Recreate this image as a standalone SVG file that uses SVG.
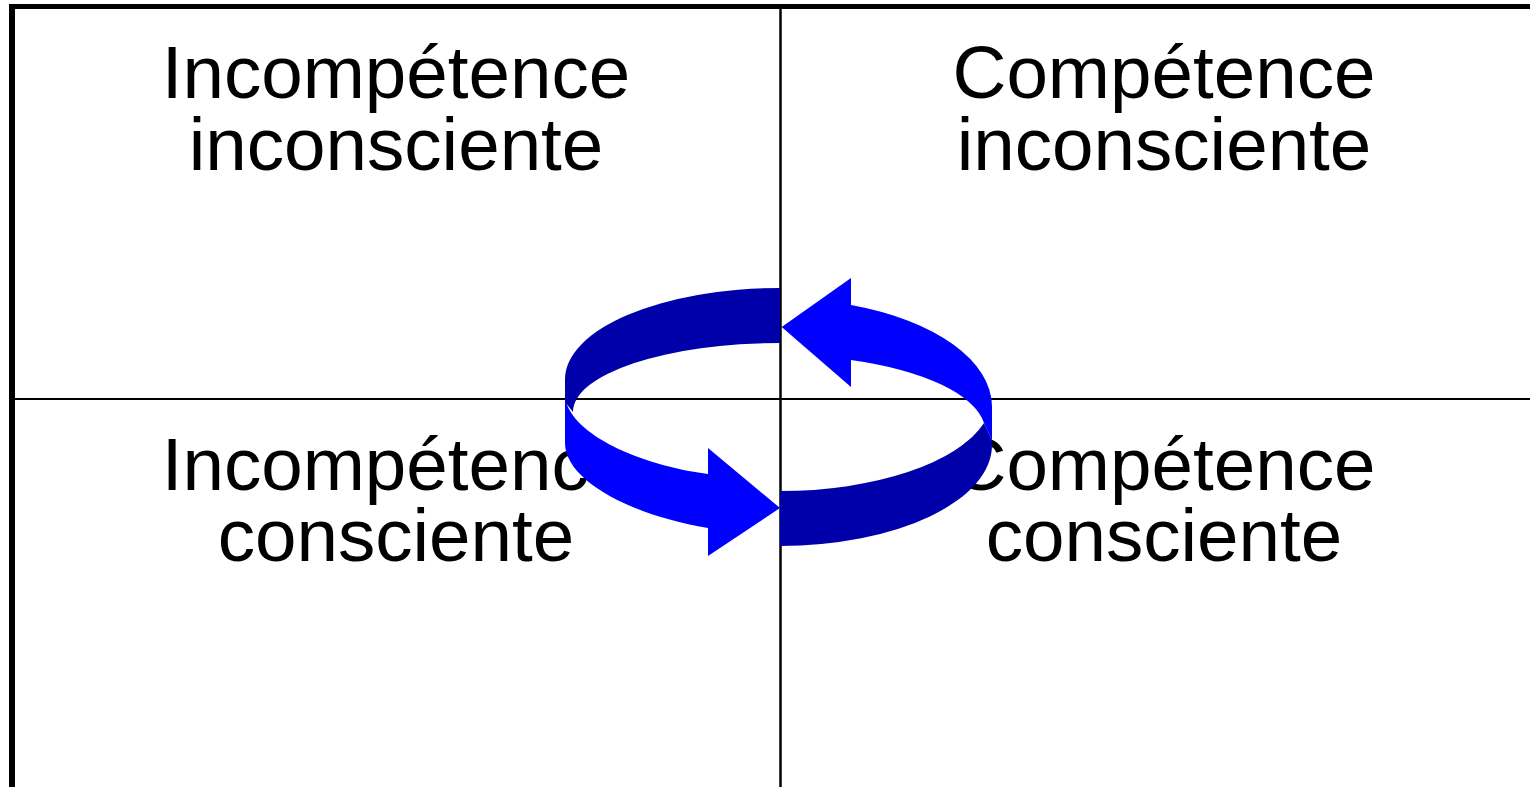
<svg xmlns="http://www.w3.org/2000/svg" width="1530" height="787" viewBox="0 0 1530 787">
  <style>
    .lbl { font-family: "Liberation Sans", Arial, sans-serif; font-size: 74.6px; fill: #000; text-anchor: middle; }
    .grid { stroke: #000; fill: none; }
    .dark { fill: #0000AA; }
    .light { fill: #0000FF; }
  </style>
  <rect width="1530" height="787" fill="#fff"/>
  <g id="frame">
    <rect x="9" y="4" width="1521" height="5" fill="#000"/>
    <rect x="9" y="4" width="6" height="783" fill="#000"/>
    <line class="grid" x1="780.5" y1="9" x2="780.5" y2="787" stroke-width="2.5"/>
    <line class="grid" x1="15" y1="399" x2="1530" y2="399" stroke-width="2"/>
  </g>
  <g id="q-incompetence-inconsciente">
    <text class="lbl" x="396" y="98">Incompétence</text>
    <text class="lbl" x="396" y="170">inconsciente</text>
  </g>
  <g id="q-competence-inconsciente">
    <text class="lbl" x="1164" y="98">Compétence</text>
    <text class="lbl" x="1164" y="170">inconsciente</text>
  </g>
  <g id="q-incompetence-consciente">
    <text class="lbl" x="396" y="490">Incompétence</text>
    <text class="lbl" x="396" y="561">consciente</text>
  </g>
  <g id="q-competence-consciente">
    <text class="lbl" x="1164" y="490">Compétence</text>
    <text class="lbl" x="1164" y="561">consciente</text>
  </g>
  <g id="connectors">
    <path class="dark" d="M780,288 A215,91.4 0 0 0 565,379.4 L565,402 L573,412 A207,69 0 0 1 780,343 Z"/>
    <path class="light" d="M565,398 C572,435 640,465 708,474 L708,448 L780,508 L708,556 L708,528 C630,515 565,480 565,443 Z"/>
    <path class="dark" d="M780,491 A212,93.6 0 0 0 984,423 L992,440 L992,445 A212,101 0 0 1 780,546 Z"/>
    <path class="light" d="M781.7,327 L851,278 L851,305 A212,108 0 0 1 992,407 L992,440 L984,423 A207,77 0 0 0 851,360 L851,387 Z"/>
  </g>
</svg>
